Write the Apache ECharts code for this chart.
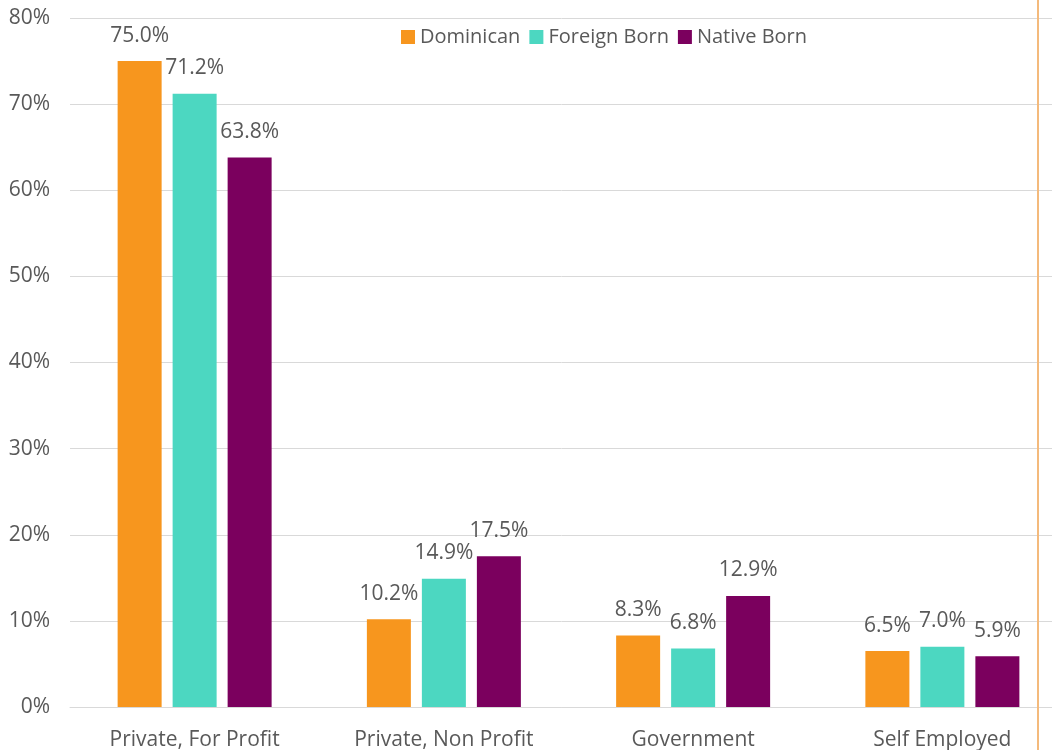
<!DOCTYPE html>
<html>
<head>
<meta charset="utf-8">
<script src="https://cdn.jsdelivr.net/npm/echarts@6/dist/echarts.min.js"></script>
<style>
  html, body { margin: 0; padding: 0; background: #fff; }
  #chart { width: 1052px; height: 750px; }
</style>
</head>
<body>
<div id="chart"></div>
<script>
// categories and series values (percent)
var categories = ['Private, For Profit', 'Private, Non Profit', 'Government', 'Self Employed']
var dominican = [75.0, 10.2, 8.3, 6.5]
var foreignBorn = [71.2, 14.9, 6.8, 7.0]
var nativeBorn = [63.8, 17.5, 12.9, 5.9]

var font = 'Open Sans'
var textColor = '#595959'

function barSeries(name, data, color) {
  return {
    name: name,
    type: 'bar',
    data: data,
    barWidth: 44,
    barGap: '25%',
    itemStyle: { color: color },
    label: {
      show: true,
      position: 'top',
      distance: 15,
      fontFamily: font,
      fontSize: 21,
      color: textColor,
      formatter: function (p) { return p.value.toFixed(1) + '%' }
    }
  }
}

var chart = echarts.init(document.getElementById('chart'))

var option = {
  animation: false,
  textStyle: { fontFamily: font },
  // plot area runs a little past the right edge of the picture
  grid: { left: 70, right: -15, top: 18, bottom: 43, outerBoundsMode: 'none' },
  legend: {
    left: 396,
    top: 22,
    icon: 'rect',
    itemWidth: 14,
    itemHeight: 14,
    itemGap: 9,
    textStyle: { fontFamily: font, fontSize: 20, color: textColor },
    data: ['Dominican', 'Foreign Born', 'Native Born']
  },
  xAxis: {
    type: 'category',
    data: categories,
    axisTick: { show: false },
    axisLine: { lineStyle: { color: '#d9d9d9', width: 1 } },
    axisLabel: { margin: 23, fontFamily: font, fontSize: 21, color: textColor }
  },
  yAxis: {
    type: 'value',
    min: 0,
    max: 80,
    interval: 10,
    axisLabel: {
      margin: 20,
      fontFamily: font,
      fontSize: 21,
      color: textColor,
      formatter: '{value}%'
    },
    splitLine: { lineStyle: { color: '#d9d9d9', width: 1 } }
  },
  graphic: [{
    type: 'line',
    shape: { x1: 1038, y1: 0, x2: 1038, y2: 750 },
    style: { stroke: '#f4ba7c', lineWidth: 2 },
    z: 10
  }],
  series: [
    barSeries('Dominican', dominican, '#f7961e'),
    barSeries('Foreign Born', foreignBorn, '#4cd7c1'),
    barSeries('Native Born', nativeBorn, '#7b005e')
  ]
}

chart.setOption(option)
</script>
</body>
</html>
